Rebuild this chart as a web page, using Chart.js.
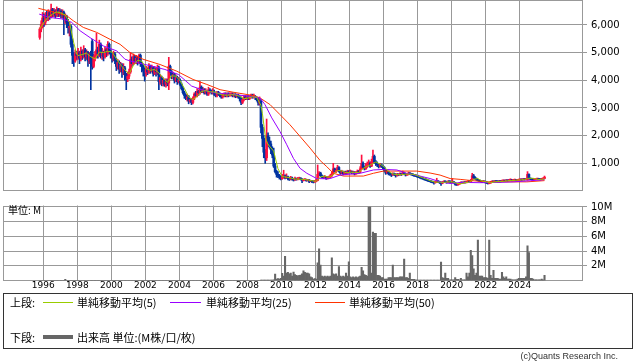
<!DOCTYPE html>
<html>
<head>
<meta charset="utf-8">
<script src="https://cdn.jsdelivr.net/npm/chart.js@4"></script>
<style>
  body { margin: 0; width: 638px; height: 362px; background: #fff; position: relative; overflow: hidden; }
  canvas { position: absolute; left: 0; }
  #priceChart { top: 0; }
  #volumeChart { top: 195px; }
  .txt { position: absolute; font-family: "Noto Sans CJK JP", sans-serif; font-size: 11px; color: #000; line-height: 14px; white-space: nowrap; }
  .swatch { position: absolute; }
  #legendBox { position: absolute; left: 3px; top: 293px; width: 630px; height: 56px; box-sizing: border-box; border: 1px solid #333; }
  #copy { position: absolute; right: 20px; top: 349px; font-family: "Liberation Sans", sans-serif; font-size: 9px; color: #333; line-height: 14px; }
</style>
</head>
<body>
<canvas id="priceChart" width="638" height="192"></canvas>
<canvas id="volumeChart" width="638" height="100"></canvas>
<div class="txt" style="left:8px;top:203px;font-size:10px;">単位: M</div>

<div id="legendBox"></div>
<div class="txt" style="left:10px;top:295px;">上段:</div>
<div class="swatch" style="left:43px;top:302px;width:30px;height:1px;background:#99cc00;"></div>
<div class="txt" style="left:77px;top:295px;">単純移動平均(5)</div>
<div class="swatch" style="left:170px;top:302px;width:31px;height:1px;background:#9900ff;"></div>
<div class="txt" style="left:206px;top:295px;">単純移動平均(25)</div>
<div class="swatch" style="left:315px;top:302px;width:30px;height:1px;background:#ff3300;"></div>
<div class="txt" style="left:349px;top:295px;">単純移動平均(50)</div>
<div class="txt" style="left:10px;top:330px;">下段:</div>
<div class="swatch" style="left:43px;top:335px;width:30px;height:4px;background:#666;"></div>
<div class="txt" style="left:77px;top:330px;">出来高 単位:(M株/口/枚)</div>
<div id="copy">(c)Quants Research Inc.</div>

<script>
// monthly candles, first one is Oct 1995
const firstYear = 1995, firstMonth = 10;
const tickYears = [1996, 1998, 2000, 2002, 2004, 2006, 2008, 2010, 2012, 2014, 2016, 2018, 2020, 2022, 2024];
const priceTicks = [1000, 2000, 3000, 4000, 5000, 6000];
const volumeTicks = [2, 4, 6, 8, 10];

const open = [
  5550, 5850, 6000,
  6250, 6100, 6350, 6250, 6450, 6300, 6550, 6400, 6500, 6350, 6550, 6400,
  6500, 6350, 6450, 6200, 6300, 6100, 5900, 5950, 5300, 4900, 4700, 4950,
  4900, 5000, 4800, 5050, 4900, 5100, 4850, 5000, 4700, 4950, 5400, 4500,
  4850, 4900, 5100, 4950, 5300, 4900, 5000, 4850, 5100, 5000, 5300, 5050,
  4950, 4800, 4950, 4700, 4500, 4650, 4400, 4550, 4300, 4450, 4200, 4050,
  4150, 4300, 4750, 4600, 4850, 4700, 4800, 4650, 4900, 4600, 4500, 4350,
  4250, 4400, 4300, 4500, 4350, 4450, 4250, 4400, 4300, 4450, 3950, 4100,
  3900, 4000, 3850, 3950, 3900, 4500, 4300, 4150, 4200, 4000, 4100, 3950,
  4000, 3850, 3700, 3550, 3450, 3350, 3400, 3250, 3300, 3200, 3350, 3500,
  3450, 3600, 3550, 3750, 3600, 3650, 3550, 3600, 3500, 3650, 3600, 3550,
  3600, 3500, 3450, 3550, 3500, 3450, 3400, 3450, 3500, 3450, 3500, 3450,
  3480, 3500, 3450, 3480, 3420, 3450, 3400, 3350, 3200, 3300, 3400, 3350,
  3380, 3350, 3400, 3450, 3400, 3420, 3380, 3300, 3200, 3250, 2300, 1900,
  1400, 1200, 2000, 1800, 1700, 1500, 1300, 900, 700, 600, 550, 500,
  450, 500, 550, 480, 520, 450, 420, 470, 430, 400, 450, 420,
  440, 460, 430, 380, 400, 420, 380, 400, 350, 370, 340, 330,
  350, 380, 600, 650, 550, 500, 480, 520, 450, 480, 500, 550,
  620, 800, 700, 750, 850, 720, 650, 700, 620, 680, 650, 700,
  680, 700, 650, 680, 620, 650, 700, 680, 800, 1000, 850, 800,
  900, 950, 1000, 900, 1050, 1250, 1050, 1000, 950, 900, 950, 900,
  850, 750, 650, 700, 620, 600, 580, 620, 600, 560, 600, 580,
  620, 600, 650, 620, 580, 600, 640, 620, 600, 580, 560, 550,
  520, 500, 480, 460, 450, 420, 400, 380, 360, 350, 330, 320,
  300, 320, 350, 330, 300, 280, 320, 340, 330, 310, 350, 330,
  320, 330, 300, 240, 220, 250, 280, 300, 290, 310, 300, 320,
  350, 330, 380, 550, 480, 450, 400, 380, 360, 340, 330, 350,
  320, 300, 270, 290, 320, 340, 330, 350, 340, 330, 350, 340,
  360, 370, 360, 380, 370, 390, 400, 380, 390, 400, 380, 390,
  400, 410, 400, 420, 410, 400, 600, 450, 430, 420, 410, 420,
  430, 430, 420, 410, 430, 450
];
const high = [
  5900, 6150, 6450,
  6400, 6450, 6500, 6550, 6500, 6750, 6600, 6600, 6550, 6650, 6600, 6600,
  6550, 6550, 6500, 6400, 6350, 6200, 6100, 6000, 5500, 5000, 5100, 5050,
  5150, 5050, 5200, 5100, 5250, 5150, 5100, 5050, 5000, 5050, 5480, 4950,
  5050, 5700, 5200, 5450, 5350, 5150, 5050, 5200, 5150, 5400, 5350, 5100,
  5000, 5050, 5000, 4800, 4750, 4700, 4650, 4600, 4600, 4500, 4250, 4300,
  4400, 5000, 4850, 4950, 4900, 4900, 4850, 4950, 4950, 4650, 4550, 4450,
  4500, 4450, 4600, 4550, 4550, 4500, 4500, 4450, 4550, 4510, 4200, 4150,
  4100, 4050, 4050, 4050, 4830, 4550, 4350, 4300, 4250, 4200, 4150, 4100,
  4050, 3900, 3750, 3600, 3500, 3500, 3450, 3350, 3350, 3400, 3550, 3600,
  3700, 3650, 3950, 3800, 3750, 3700, 3700, 3650, 3750, 3700, 3650, 3700,
  3650, 3550, 3600, 3600, 3550, 3500, 3500, 3550, 3550, 3550, 3550, 3550,
  3550, 3550, 3520, 3520, 3500, 3500, 3450, 3400, 3350, 3450, 3450, 3450,
  3450, 3450, 3500, 3500, 3500, 3450, 3400, 3350, 3400, 3300, 2400, 2000,
  1500, 2600, 2100, 1950, 1800, 1600, 1550, 1000, 750, 700, 600, 550,
  600, 750, 580, 620, 540, 480, 530, 500, 450, 500, 470, 490,
  500, 480, 450, 430, 450, 430, 420, 410, 390, 380, 360, 380,
  420, 940, 700, 680, 580, 540, 560, 530, 520, 540, 600, 680,
  1000, 830, 800, 930, 880, 750, 750, 720, 720, 720, 750, 740,
  760, 730, 720, 700, 700, 760, 740, 880, 1300, 1050, 900, 1000,
  1050, 1120, 1050, 1150, 1480, 1300, 1100, 1050, 980, 1000, 980, 920,
  880, 780, 740, 720, 660, 640, 660, 650, 620, 640, 620, 660,
  650, 720, 680, 640, 640, 680, 660, 640, 620, 600, 590, 570,
  570, 530, 510, 490, 470, 450, 430, 400, 390, 370, 350, 340,
  360, 460, 370, 350, 320, 350, 370, 360, 340, 380, 370, 350,
  450, 340, 310, 260, 280, 300, 330, 320, 330, 330, 350, 380,
  370, 420, 640, 600, 520, 470, 420, 400, 380, 360, 380, 360,
  340, 310, 310, 350, 370, 360, 380, 370, 360, 380, 370, 390,
  400, 390, 410, 400, 420, 440, 420, 420, 430, 420, 420, 430,
  440, 430, 450, 440, 460, 700, 620, 470, 450, 440, 450, 460,
  460, 450, 440, 460, 480, 540
];
const low = [
  5480, 5750, 5900,
  5950, 6000, 6150, 6150, 6200, 6250, 6300, 6300, 6250, 6300, 6300, 6300,
  6250, 6250, 5650, 6050, 5900, 5700, 5600, 5200, 4600, 4500, 4650, 4750,
  4750, 4600, 4700, 4750, 4800, 4700, 4750, 4500, 4600, 3660, 4400, 4450,
  4700, 4800, 4800, 4850, 4800, 4750, 4700, 4800, 4850, 4900, 4950, 4800,
  4650, 4700, 4600, 4350, 4400, 4250, 4300, 4100, 4200, 4000, 3660, 3950,
  4050, 4250, 4500, 4550, 4600, 4600, 4550, 4600, 4500, 4300, 4150, 3970,
  4150, 4200, 4250, 4250, 4300, 4150, 4200, 4150, 4200, 3660, 3850, 3800,
  3800, 3780, 3750, 3800, 3660, 4200, 4050, 4050, 3900, 3950, 3850, 3900,
  3800, 3650, 3500, 3350, 3300, 3250, 3150, 3200, 3120, 3150, 3300, 3400,
  3400, 3450, 3500, 3550, 3550, 3500, 3500, 3450, 3450, 3550, 3500, 3500,
  3450, 3400, 3400, 3450, 3400, 3350, 3350, 3400, 3400, 3400, 3400, 3420,
  3430, 3400, 3400, 3370, 3380, 3350, 3250, 3120, 3150, 3250, 3300, 3300,
  3300, 3300, 3350, 3350, 3350, 3300, 3250, 3100, 3100, 2100, 1600, 1200,
  1000, 1100, 1600, 1550, 1350, 1200, 850, 650, 500, 480, 430, 400,
  420, 460, 440, 450, 400, 380, 400, 390, 360, 380, 390, 400,
  420, 400, 300, 360, 380, 350, 360, 300, 330, 300, 290, 310,
  330, 370, 560, 520, 470, 450, 460, 420, 430, 460, 480, 530,
  600, 680, 660, 720, 680, 600, 620, 580, 600, 600, 630, 640,
  650, 620, 620, 580, 600, 620, 640, 660, 780, 820, 760, 780,
  850, 900, 850, 880, 1000, 1000, 920, 880, 830, 860, 850, 800,
  700, 600, 630, 580, 560, 520, 560, 560, 500, 540, 550, 570,
  560, 580, 590, 540, 560, 580, 590, 570, 550, 530, 520, 500,
  480, 460, 440, 420, 400, 380, 360, 340, 330, 300, 290, 250,
  280, 300, 310, 270, 200, 260, 300, 300, 280, 300, 310, 290,
  300, 280, 210, 200, 210, 240, 270, 270, 280, 280, 290, 310,
  300, 320, 370, 450, 420, 380, 360, 340, 320, 300, 320, 290,
  270, 250, 260, 280, 310, 310, 320, 320, 310, 320, 320, 340,
  340, 340, 350, 350, 360, 370, 360, 360, 370, 360, 360, 380,
  380, 380, 390, 390, 400, 390, 430, 410, 400, 390, 400, 410,
  400, 400, 390, 400, 420, 440
];
const close = [
  5850, 6000, 6250,
  6100, 6350, 6250, 6450, 6300, 6550, 6400, 6500, 6350, 6550, 6400, 6500,
  6350, 6450, 6200, 6300, 6100, 5900, 5950, 5300, 4900, 4700, 4950, 4900,
  5000, 4800, 5050, 4900, 5100, 4850, 5000, 4700, 4950, 4600, 4500, 4850,
  4900, 5100, 4950, 5300, 4900, 5000, 4850, 5100, 5000, 5300, 5050, 4950,
  4800, 4950, 4700, 4500, 4650, 4400, 4550, 4300, 4450, 4200, 4050, 4150,
  4300, 4750, 4600, 4850, 4700, 4800, 4650, 4900, 4600, 4500, 4350, 4250,
  4400, 4300, 4500, 4350, 4450, 4250, 4400, 4300, 4450, 3950, 4100, 3900,
  4000, 3850, 3950, 3900, 4500, 4300, 4150, 4200, 4000, 4100, 3950, 4000,
  3850, 3700, 3550, 3450, 3350, 3400, 3250, 3300, 3200, 3350, 3500, 3450,
  3600, 3550, 3750, 3600, 3650, 3550, 3600, 3500, 3650, 3600, 3550, 3600,
  3500, 3450, 3550, 3500, 3450, 3400, 3450, 3500, 3450, 3500, 3450, 3480,
  3500, 3450, 3480, 3420, 3450, 3400, 3350, 3200, 3300, 3400, 3350, 3380,
  3350, 3400, 3450, 3400, 3420, 3380, 3300, 3200, 3250, 2300, 1900, 1400,
  1200, 2000, 1800, 1700, 1500, 1300, 900, 700, 600, 550, 500, 450,
  500, 550, 480, 520, 450, 420, 470, 430, 400, 450, 420, 440,
  460, 430, 380, 400, 420, 380, 400, 350, 370, 340, 330, 350,
  380, 600, 650, 550, 500, 480, 520, 450, 480, 500, 550, 620,
  800, 700, 750, 850, 720, 650, 700, 620, 680, 650, 700, 680,
  700, 650, 680, 620, 650, 700, 680, 800, 1000, 850, 800, 900,
  950, 1000, 900, 1050, 1250, 1050, 1000, 950, 900, 950, 900, 850,
  750, 650, 700, 620, 600, 580, 620, 600, 560, 600, 580, 620,
  600, 650, 620, 580, 600, 640, 620, 600, 580, 560, 550, 520,
  500, 480, 460, 450, 420, 400, 380, 360, 350, 330, 320, 300,
  320, 350, 330, 300, 280, 320, 340, 330, 310, 350, 330, 320,
  330, 300, 240, 220, 250, 280, 300, 290, 310, 300, 320, 350,
  330, 380, 550, 480, 450, 400, 380, 360, 340, 330, 350, 320,
  300, 270, 290, 320, 340, 330, 350, 340, 330, 350, 340, 360,
  370, 360, 380, 370, 390, 400, 380, 390, 400, 380, 390, 400,
  410, 400, 420, 410, 430, 600, 450, 430, 420, 410, 420, 430,
  430, 420, 410, 430, 450, 500
];
// volume in millions
const volume = [
  0.02, 0.02, 0.02,
  0.02, 0.02, 0.02, 0.02, 0.02, 0.02, 0.02, 0.02, 0.02, 0.02, 0.02, 0.02,
  0.02, 0.02, 0.02, 0.17, 0.02, 0.02, 0.02, 0.02, 0.02, 0.02, 0.02, 0.02,
  0.02, 0.02, 0.02, 0.02, 0.02, 0.02, 0.02, 0.02, 0.02, 0.02, 0.02, 0.02,
  0.02, 0.02, 0.02, 0.02, 0.02, 0.02, 0.02, 0.02, 0.02, 0.02, 0.02, 0.02,
  0.02, 0.02, 0.02, 0.02, 0.02, 0.02, 0.02, 0.02, 0.02, 0.02, 0.02, 0.02,
  0.02, 0.02, 0.02, 0.02, 0.02, 0.02, 0.02, 0.02, 0.02, 0.02, 0.02, 0.02,
  0.02, 0.02, 0.02, 0.02, 0.02, 0.02, 0.02, 0.02, 0.02, 0.02, 0.02, 0.02,
  0.02, 0.02, 0.02, 0.02, 0.02, 0.02, 0.02, 0.02, 0.02, 0.02, 0.02, 0.02,
  0.02, 0.02, 0.02, 0.02, 0.02, 0.02, 0.02, 0.02, 0.02, 0.02, 0.02, 0.02,
  0.02, 0.02, 0.02, 0.02, 0.02, 0.02, 0.02, 0.02, 0.02, 0.02, 0.02, 0.02,
  0.02, 0.02, 0.02, 0.02, 0.02, 0.02, 0.02, 0.02, 0.02, 0.02, 0.02, 0.02,
  0.02, 0.02, 0.02, 0.02, 0.02, 0.02, 0.02, 0.02, 0.02, 0.02, 0.02, 0.02,
  0.02, 0.02, 0.02, 0.02, 0.02, 0.02, 0.02, 0.02, 0.02, 0.05, 0.05, 0.05,
  0.05, 0.05, 0.05, 0.05, 0.05, 0.05, 0.1, 0.86, 0.2, 0.25, 0.2, 0.3,
  0.96, 0.6, 3.3, 1.0, 1.1, 0.9, 1.0, 0.6, 1.13, 0.8, 0.7, 0.65,
  0.7, 0.75, 0.9, 1.3, 1.1, 1.0, 1.0, 0.9, 0.5, 0.4, 0.2, 0.25,
  0.2, 2.4, 4.3, 2.1, 0.6, 0.5, 0.6, 0.5, 0.6, 0.5, 0.6, 3.1,
  0.9, 0.8, 0.9, 0.6, 1.9, 0.6, 0.5, 0.6, 0.5, 1.0, 0.6, 2.55,
  0.5, 0.4, 0.5, 0.4, 0.5, 0.4, 0.5, 0.6, 1.8, 1.3, 0.8, 0.7,
  0.6, 10.0, 10.0, 1.0, 6.6, 6.4, 6.4, 0.7, 0.7, 0.6, 0.4, 0.4,
  0.2, 0.2, 0.2, 0.4, 0.4, 0.4, 2.1, 0.4, 0.4, 0.4, 0.4, 0.5,
  0.5, 0.5, 2.9, 0.4, 0.4, 0.3, 1.0, 0.15, 0.15, 0.15, 0.1, 0.05,
  0.05, 0.05, 0.05, 0.05, 0.05, 0.05, 0.05, 0.05, 0.05, 0.05, 0.05, 0.05,
  0.05, 0.05, 0.05, 0.05, 2.5, 0.4, 0.3, 1.0, 0.3, 0.3, 0.1, 0.1,
  0.1, 0.1, 0.4, 0.15, 0.15, 0.1, 0.3, 0.1, 0.1, 0.1, 1.0, 0.5,
  1.0, 4.1, 3.4, 1.6, 0.7, 1.0, 5.5, 0.6, 0.6, 0.6, 0.4, 0.4,
  0.4, 0.3, 5.5, 0.7, 0.3, 1.4, 0.3, 0.3, 0.3, 0.2, 0.2, 1.1,
  0.5, 0.3, 0.5, 0.2, 0.2, 0.2, 0.1, 0.1, 0.1, 0.1, 0.2, 0.3,
  0.3, 0.3, 0.3, 0.3, 0.5, 4.7, 3.8, 0.3, 0.3, 0.2, 0.1, 0.1,
  0.1, 0.1, 0.1, 0.2, 0.1, 0.7
];

// moving averages (time in years, value)
const ma5Time = [
  1995.79, 1996.04, 1996.29, 1996.54, 1996.79, 1997.04, 1997.29, 1997.54, 1997.79, 1997.96,
  1998.04, 1998.29, 1998.54, 1998.79, 1999.04, 1999.29, 1999.54, 1999.79,
  2000.04, 2000.29, 2000.54, 2000.79, 2001.04, 2001.29, 2001.54, 2001.79,
  2002.04, 2002.29, 2002.54, 2002.79, 2003.04, 2003.29, 2003.54, 2003.79,
  2004.04, 2004.29, 2004.54, 2004.79, 2005.04, 2005.29, 2005.54, 2005.79,
  2006.04, 2006.29, 2006.54, 2006.79, 2007.04, 2007.29, 2007.54, 2007.79,
  2008.04, 2008.29, 2008.54, 2008.79, 2008.88, 2008.96, 2009.04, 2009.13, 2009.29, 2009.54, 2009.79,
  2010.04, 2010.29, 2010.54, 2010.79, 2011.04, 2011.29, 2011.54, 2011.79,
  2012.04, 2012.29, 2012.54, 2012.79, 2013.04, 2013.29, 2013.54, 2013.79,
  2014.04, 2014.29, 2014.54, 2014.79, 2015.04, 2015.29, 2015.54, 2015.79,
  2016.04, 2016.29, 2016.54, 2016.79, 2017.04, 2017.29, 2017.54, 2017.79,
  2018.04, 2018.29, 2018.54, 2018.79, 2019.04, 2019.29, 2019.54, 2019.79,
  2020.04, 2020.29, 2020.54, 2020.79, 2021.04, 2021.29, 2021.54, 2021.79,
  2022.04, 2022.29, 2022.54, 2022.79, 2023.04, 2023.29, 2023.54, 2023.79,
  2024.04, 2024.29, 2024.46, 2024.54, 2024.79, 2025.04, 2025.29, 2025.46
];
const ma5 = [
  5850, 6100, 6280, 6390, 6470, 6430, 6360, 6090, 5350, 4950,
  4890, 4930, 4980, 4850, 4770, 5020, 5000, 5050,
  5020, 4780, 4560, 4380, 4230, 4530, 4720, 4690,
  4420, 4360, 4390, 4270, 4080, 3920, 4160, 4150,
  3980, 3710, 3400, 3300, 3420, 3590, 3630, 3580,
  3580, 3520, 3470, 3460, 3480, 3470, 3420, 3330,
  3360, 3400, 3390, 3090, 2790, 2410, 2010, 1760, 1620, 1440, 810,
  520, 500, 470, 430, 430, 420, 400, 370,
  350, 510, 540, 490, 590, 740, 730, 660,
  680, 670, 670, 810, 900, 960, 1050, 970,
  870, 710, 620, 590, 590, 610, 610, 600,
  540, 480, 420, 360, 320, 320, 310, 330,
  330, 280, 260, 300, 320, 420, 450, 360,
  330, 300, 330, 340, 350, 370, 380, 390,
  400, 410, 450, 460, 460, 420, 420, 440
];
const ma25Time = [
  1995.76, 1996.39, 1997.18, 1997.67, 1998.16, 1998.75, 1999.53, 2000.32, 2000.8, 2001.1,
  2001.98, 2003.15, 2003.94, 2004.72, 2005.31, 2005.99, 2007.27, 2008.15, 2008.74, 2009.03,
  2009.43, 2009.91, 2010.31, 2010.7, 2011.09, 2011.49, 2012.07, 2012.66, 2012.86, 2013.44,
  2014.62, 2015.4, 2015.99, 2016.78, 2017.36, 2018.14, 2018.73, 2019.32, 2019.91, 2020.69,
  2021.67, 2022.65, 2023.63, 2024.61, 2025.46
];
const ma25 = [
  6390, 6270, 6210, 6090, 5790, 5540, 5240, 5060, 4760, 4700,
  4570, 4390, 4210, 3790, 3660, 3550, 3480, 3420, 3360, 3120,
  2640, 2150, 1670, 1180, 820, 640, 450, 440, 450, 575,
  640, 760, 780, 760, 640, 540, 450, 330, 270, 310,
  300, 310, 330, 370, 410
];
const ma50Time = [
  1995.71, 1996.69, 1997.38, 1997.76, 1998.35, 1999.14, 1999.92, 2000.51, 2001.1, 2001.86,
  2002.86, 2003.84, 2004.8, 2005.61, 2006.39, 2007.15, 2008.33, 2008.74, 2009.33, 2009.91,
  2010.5, 2011.09, 2011.68, 2012.27, 2012.66, 2013.05, 2013.64, 2014.81, 2015.4, 2015.99,
  2017.95, 2018.73, 2019.32, 2019.91, 2020.5, 2021.28, 2022.07, 2024.42, 2025.46
];
const ma50 = [
  6600, 6450, 6330, 6150, 5910, 5730, 5480, 5300, 5000, 4760,
  4570, 4330, 4030, 3850, 3660, 3570, 3450, 3360, 3120, 2760,
  2390, 1970, 1550, 1100, 880, 640, 540, 540, 640, 720,
  720, 650, 575, 450, 420, 370, 330, 330, 375
];

const upColor = '#ff1040';
const downColor = '#0033a0';
const gridColor = '#999999';
const xMin = 1993.631, xMax = 2027.72;

const monthTimes = close.map((_, i) => firstYear + (firstMonth - 1 + i + 0.5) / 12);
const candleColors = close.map((c, i) => c >= open[i] ? upColor : downColor);
const pts = (ts, vs) => ts.map((t, i) => ({ x: t, y: vs[i] }));

const framePlugin = {
  id: 'frame',
  beforeDatasetsDraw(chart) {
    const { ctx, chartArea: a } = chart;
    ctx.save();
    ctx.strokeStyle = gridColor;
    ctx.lineWidth = 1;
    ctx.strokeRect(Math.round(a.left) + 0.5, Math.round(a.top) + 0.5,
      Math.round(a.right - a.left) - 1, Math.round(a.bottom - a.top) - 1);
    ctx.restore();
  }
};

const yearAxis = (showLabels) => ({
  type: 'linear', min: xMin, max: xMax, offset: false,
  afterBuildTicks: s => { s.ticks = tickYears.map(v => ({ value: v })); },
  afterFit: s => { s.height = showLabels ? 14.5 : 0; s.paddingLeft = 0; s.paddingRight = 0; },
  grid: { color: gridColor, offset: false, drawTicks: false },
  border: { display: false },
  ticks: {
    display: showLabels, padding: 0, color: '#000', maxRotation: 0,
    font: { family: 'DejaVu Sans', size: 9 },
    callback: v => String(v)
  }
});

const rightAxis = (ticks, max, fmt) => ({
  position: 'right', min: 0, max: max,
  afterBuildTicks: s => { s.ticks = ticks.map(v => ({ value: v })); },
  afterFit: s => { s.width = 55; s.paddingTop = 0; s.paddingBottom = 0; },
  grid: { color: gridColor, tickLength: 4 },
  border: { display: false },
  ticks: { padding: 4, color: '#000', font: { family: 'DejaVu Sans', size: 10 }, callback: fmt }
});

new Chart(document.getElementById('priceChart'), {
  type: 'bar',
  data: {
    datasets: [
      { type: 'line', data: pts(ma5Time, ma5), borderColor: '#99cc00', borderWidth: 1, pointRadius: 0, tension: 0, order: 1 },
      { type: 'line', data: pts(ma25Time, ma25), borderColor: '#9900ff', borderWidth: 1, pointRadius: 0, tension: 0, order: 2 },
      { type: 'line', data: pts(ma50Time, ma50), borderColor: '#ff3300', borderWidth: 1, pointRadius: 0, tension: 0, order: 3 },
      { data: monthTimes.map((t, i) => ({ x: t, y: [open[i], close[i]] })), backgroundColor: candleColors,
        barThickness: 2, minBarLength: 1, grouped: false, order: 9 },
      { data: monthTimes.map((t, i) => ({ x: t, y: [low[i], high[i]] })), backgroundColor: candleColors,
        barThickness: 1, grouped: false, order: 10 }
    ]
  },
  options: {
    responsive: false, animation: false, devicePixelRatio: 1,
    layout: { autoPadding: false, padding: { left: 3, top: 0, right: 0, bottom: 1 } },
    plugins: { legend: { display: false }, tooltip: { enabled: false } },
    scales: {
      x: yearAxis(false),
      y: rightAxis(priceTicks, 6900, v => v.toLocaleString('en-US'))
    }
  },
  plugins: [framePlugin]
});

new Chart(document.getElementById('volumeChart'), {
  type: 'bar',
  data: {
    datasets: [
      { data: monthTimes.map((t, i) => ({ x: t, y: volume[i] })), backgroundColor: '#666666',
        barThickness: 1.42, grouped: false }
    ]
  },
  options: {
    responsive: false, animation: false, devicePixelRatio: 1,
    layout: { autoPadding: false, padding: { left: 3, top: 10.5, right: 0, bottom: 0 } },
    plugins: { legend: { display: false }, tooltip: { enabled: false } },
    scales: {
      x: yearAxis(true),
      y: rightAxis(volumeTicks, 10.2, v => v + 'M')
    }
  },
  plugins: [framePlugin]
});
</script>
</body>
</html>
